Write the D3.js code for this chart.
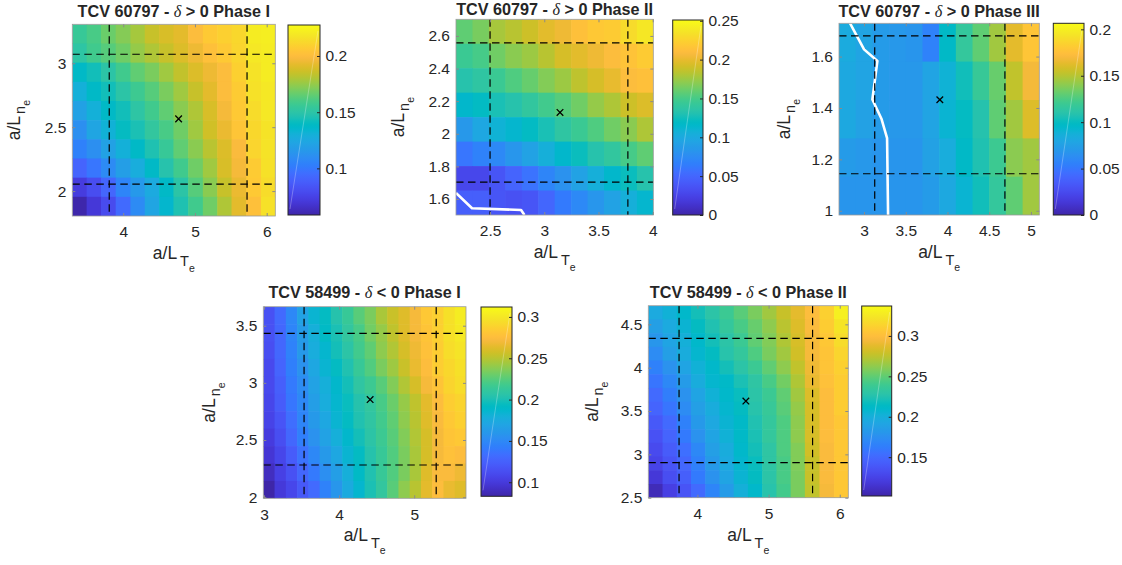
<!DOCTYPE html>
<html><head><meta charset="utf-8">
<script src="https://cdn.jsdelivr.net/npm/d3@7/dist/d3.min.js"></script>
<style>
body{margin:0;background:#fff}
svg{display:block}
text{font-family:"Liberation Sans",Arial,Helvetica,sans-serif;fill:#262626}
</style></head>
<body><svg id="c" width="1122" height="565"></svg>
<script>
// ---------------- DATA ----------------
// Panel 1 : TCV 60797, delta>0, Phase I
const p1Title = ["TCV 60797 - ", " > 0 Phase I"];
const p1X = [3.39,3.59,3.79,4.00,4.20,4.40,4.60,4.80,5.01,5.21,5.41,5.61,5.82,6.02];
const p1Y = [3.23,3.08,2.93,2.78,2.63,2.48,2.33,2.18,2.03,1.88];
const p1Z = [
 [.155,.160,.167,.172,.178,.185,.189,.192,.200,.206,.209,.212,.221,.222],
 [.151,.158,.163,.168,.175,.180,.185,.190,.195,.202,.206,.211,.219,.221],
 [.138,.143,.150,.158,.165,.170,.177,.184,.190,.195,.200,.209,.217,.221],
 [.130,.138,.143,.150,.157,.163,.170,.177,.185,.192,.200,.207,.216,.219],
 [.121,.130,.138,.143,.151,.158,.165,.173,.180,.189,.197,.206,.214,.219],
 [.111,.123,.131,.140,.145,.153,.160,.168,.177,.187,.194,.204,.212,.217],
 [.104,.111,.121,.130,.138,.146,.155,.165,.173,.182,.190,.199,.211,.217],
 [.091,.099,.109,.119,.128,.138,.148,.158,.168,.177,.189,.197,.207,.216],
 [.072,.080,.092,.106,.116,.126,.138,.150,.163,.173,.185,.194,.206,.214],
 [.059,.070,.079,.094,.109,.123,.135,.146,.158,.168,.180,.192,.202,.216]];
const p1CLim = [0.0585, 0.2276];
const p1XTicks = [4,5,6], p1XTickLabels = ["4","5","6"];
const p1YTicks = [2,2.5,3], p1YTickLabels = ["2","2.5","3"];
const p1CTicks = [0.1,0.15,0.2], p1CTickLabels = ["0.1","0.15","0.2"];
const p1VLines = [3.805,5.726], p1HLines = [3.0705,2.055];
const p1Mark = [4.772,2.565];
const p1Contour = [];

// Panel 2 : TCV 60797, delta>0, Phase II
const p2Title = ["TCV 60797 - ", " > 0 Phase II"];
const p2X = [2.262,2.414,2.565,2.717,2.869,3.020,3.172,3.324,3.475,3.627,3.779,3.930];
const p2Y = [2.627,2.477,2.327,2.177,2.027,1.877,1.727,1.577];
const p2Z = [
 [.158,.165,.178,.183,.190,.198,.203,.213,.218,.220,.230,.238],
 [.145,.150,.163,.170,.175,.183,.193,.198,.203,.210,.215,.220],
 [.133,.138,.145,.153,.160,.168,.175,.185,.193,.200,.210,.213],
 [.115,.120,.128,.133,.140,.148,.155,.163,.173,.180,.190,.195],
 [.085,.098,.108,.113,.120,.128,.138,.145,.153,.163,.170,.180],
 [.060,.068,.073,.083,.093,.105,.115,.123,.133,.140,.150,.158],
 [.028,.028,.038,.048,.058,.070,.080,.093,.105,.115,.123,.133],
 [.045,.045,.038,.035,.038,.050,.063,.073,.083,.093,.105,.113]];
const p2CLim = [0, 0.251];
const p2XTicks = [2.5,3,3.5,4], p2XTickLabels = ["2.5","3","3.5","4"];
const p2YTicks = [1.6,1.8,2,2.2,2.4,2.6], p2YTickLabels = ["1.6","1.8","2","2.2","2.4","2.6"];
const p2CTicks = [0,0.05,0.1,0.15,0.2,0.25], p2CTickLabels = ["0","0.05","0.1","0.15","0.2","0.25"];
const p2VLines = [2.50,3.771], p2HLines = [2.557,1.704];
const p2Mark = [3.145,2.131];
const p2Contour = [[2.186,1.637],[2.334,1.543],[2.786,1.533],[2.817,1.502]];

// Panel 3 : TCV 60797, delta>0, Phase III
const p3Title = ["TCV 60797 - ", " > 0 Phase III"];
const p3X = [2.8,3.0,3.2,3.4,3.6,3.8,4.0,4.2,4.4,4.6,4.8,5.0];
const p3Y = [1.655,1.506,1.356,1.207,1.058];
const p3Z = [
 [.083,.078,.072,.070,.068,.056,.097,.116,.130,.145,.163,.178],
 [.081,.078,.072,.070,.070,.078,.089,.103,.118,.132,.153,.169],
 [.081,.076,.072,.070,.070,.078,.091,.099,.109,.130,.145,.161],
 [.072,.070,.068,.068,.068,.076,.085,.097,.107,.120,.140,.145],
 [.068,.068,.068,.068,.068,.072,.081,.091,.103,.116,.130,.145]];
const p3CLim = [0, 0.2065];
const p3XTicks = [3,3.5,4,4.5,5], p3XTickLabels = ["3","3.5","4","4.5","5"];
const p3YTicks = [1,1.2,1.4,1.6], p3YTickLabels = ["1","1.2","1.4","1.6"];
const p3CTicks = [0,0.05,0.1,0.15,0.2], p3CTickLabels = ["0","0.05","0.1","0.15","0.2"];
const p3VLines = [3.128,4.688], p3HLines = [1.6805,1.144];
const p3Mark = [3.908,1.432];
const p3Contour = [[2.83,1.731],[3.00,1.628],[3.16,1.583],[3.10,1.433],[3.21,1.357],[3.276,1.283],[3.288,0.983]];

// Panel 4 : TCV 58499, delta<0, Phase I
const p4Title = ["TCV 58499 - ", " < 0 Phase I"];
const p4X = [3.065,3.215,3.365,3.515,3.665,3.815,3.965,4.115,4.265,4.415,4.565,4.715,4.865,5.015,5.165,5.315,5.465,5.615];
const p4Y = [3.590,3.437,3.285,3.133,2.980,2.828,2.676,2.523,2.371,2.218,2.066];
const p4Z = [
 [.115,.131,.149,.168,.184,.193,.204,.214,.225,.234,.246,.255,.262,.271,.282,.287,.296,.303],
 [.115,.129,.147,.163,.179,.191,.200,.211,.220,.232,.241,.252,.262,.271,.280,.287,.296,.301],
 [.113,.129,.145,.161,.177,.186,.198,.207,.218,.227,.239,.248,.259,.268,.278,.285,.294,.298],
 [.110,.127,.143,.156,.172,.184,.193,.202,.214,.223,.234,.243,.255,.266,.275,.285,.291,.296],
 [.110,.124,.140,.152,.168,.179,.188,.198,.209,.216,.225,.236,.248,.259,.271,.280,.289,.294],
 [.108,.122,.138,.149,.165,.177,.186,.195,.204,.211,.220,.230,.241,.252,.264,.275,.285,.289],
 [.106,.117,.133,.147,.161,.172,.184,.193,.202,.209,.218,.227,.239,.250,.262,.273,.282,.287],
 [.101,.113,.129,.143,.156,.168,.179,.188,.198,.207,.216,.225,.236,.248,.259,.271,.280,.282],
 [.097,.108,.122,.136,.149,.161,.172,.184,.193,.204,.214,.223,.234,.246,.259,.271,.278,.275],
 [.090,.104,.115,.129,.140,.154,.165,.179,.191,.202,.214,.223,.234,.246,.262,.273,.273,.268],
 [.083,.099,.108,.120,.131,.145,.159,.175,.186,.200,.211,.225,.239,.250,.264,.275,.266,.262]];
const p4CLim = [0.083, 0.312];
const p4XTicks = [3,4,5], p4XTickLabels = ["3","4","5"];
const p4YTicks = [2,2.5,3,3.5], p4YTickLabels = ["2","2.5","3","3.5"];
const p4CTicks = [0.1,0.15,0.2,0.25,0.3], p4CTickLabels = ["0.1","0.15","0.2","0.25","0.3"];
const p4VLines = [3.533,5.293], p4HLines = [3.433,2.2815];
const p4Mark = [4.413,2.854];
const p4Contour = [];

// Panel 5 : TCV 58499, delta<0, Phase II
const p5Title = ["TCV 58499 - ", " < 0 Phase II"];
const p5X = [3.41,3.61,3.81,4.01,4.21,4.41,4.61,4.81,5.01,5.21,5.41,5.61,5.82,6.02];
const p5Y = [4.636,4.478,4.320,4.161,4.003,3.845,3.687,3.528,3.370,3.212,3.054,2.896,2.737,2.579];
const p5Z = [
 [.196,.203,.210,.220,.229,.238,.248,.257,.267,.278,.288,.299,.311,.330],
 [.187,.196,.205,.215,.224,.234,.243,.252,.262,.274,.285,.297,.309,.323],
 [.180,.191,.201,.210,.220,.229,.238,.250,.259,.271,.283,.295,.306,.318],
 [.173,.187,.198,.208,.215,.227,.234,.245,.257,.267,.281,.295,.304,.314],
 [.165,.177,.191,.203,.210,.220,.229,.238,.250,.262,.276,.292,.304,.311],
 [.158,.170,.184,.198,.208,.212,.222,.231,.243,.255,.271,.290,.302,.309],
 [.151,.163,.177,.191,.203,.210,.217,.229,.238,.250,.267,.285,.299,.309],
 [.147,.158,.173,.187,.198,.208,.215,.227,.236,.248,.264,.283,.299,.309],
 [.140,.151,.165,.182,.194,.205,.212,.224,.234,.245,.262,.283,.299,.306],
 [.135,.147,.161,.177,.191,.203,.212,.222,.234,.245,.262,.283,.299,.306],
 [.130,.142,.154,.170,.187,.198,.210,.220,.231,.245,.259,.281,.297,.306],
 [.126,.137,.149,.165,.182,.196,.208,.217,.231,.243,.259,.278,.297,.306],
 [.118,.133,.144,.161,.177,.191,.205,.215,.229,.243,.257,.278,.297,.306],
 [.107,.123,.137,.151,.168,.184,.201,.210,.227,.241,.257,.276,.295,.306]];
const p5CLim = [0.102, 0.337];
const p5XTicks = [4,5,6], p5XTickLabels = ["4","5","6"];
const p5YTicks = [2.5,3,3.5,4,4.5], p5YTickLabels = ["2.5","3","3.5","4","4.5"];
const p5CTicks = [0.15,0.2,0.25,0.3], p5CTickLabels = ["0.15","0.2","0.25","0.3"];
const p5VLines = [3.742,5.618], p5HLines = [4.338,2.904];
const p5Mark = [4.681,3.615];
const p5Contour = [];

const xLabel = ["a/L", "T", "e"];
const yLabel = ["a/L", "n", "e"];
const deltaSym = "\u03B4";

// parula colormap (64 entries)
const PARULA = [
[0.2422,0.1504,0.6603],[0.2504,0.1650,0.7076],[0.2578,0.1818,0.7511],[0.2647,0.1978,0.7952],
[0.2706,0.2147,0.8364],[0.2751,0.2342,0.8710],[0.2783,0.2559,0.8991],[0.2803,0.2782,0.9221],
[0.2813,0.3006,0.9414],[0.2810,0.3228,0.9579],[0.2795,0.3447,0.9717],[0.2760,0.3667,0.9829],
[0.2699,0.3892,0.9906],[0.2602,0.4123,0.9952],[0.2440,0.4358,0.9988],[0.2206,0.4603,0.9973],
[0.1963,0.4847,0.9892],[0.1834,0.5074,0.9798],[0.1786,0.5289,0.9682],[0.1764,0.5499,0.9520],
[0.1687,0.5703,0.9359],[0.1540,0.5902,0.9218],[0.1460,0.6091,0.9079],[0.1380,0.6276,0.8973],
[0.1248,0.6459,0.8883],[0.1113,0.6635,0.8763],[0.0952,0.6798,0.8598],[0.0689,0.6948,0.8394],
[0.0297,0.7082,0.8163],[0.0036,0.7203,0.7917],[0.0067,0.7312,0.7660],[0.0433,0.7411,0.7394],
[0.0964,0.7500,0.7120],[0.1408,0.7584,0.6842],[0.1717,0.7670,0.6554],[0.1938,0.7758,0.6251],
[0.2161,0.7843,0.5923],[0.2470,0.7918,0.5567],[0.2906,0.7973,0.5188],[0.3406,0.8008,0.4789],
[0.3909,0.8029,0.4354],[0.4456,0.8024,0.3909],[0.5044,0.7993,0.3480],[0.5616,0.7942,0.3045],
[0.6174,0.7876,0.2612],[0.6720,0.7793,0.2227],[0.7242,0.7698,0.1910],[0.7738,0.7598,0.1646],
[0.8203,0.7498,0.1535],[0.8634,0.7406,0.1596],[0.9035,0.7330,0.1774],[0.9393,0.7288,0.2100],
[0.9728,0.7298,0.2394],[0.9956,0.7434,0.2371],[0.9970,0.7659,0.2199],[0.9952,0.7893,0.2028],
[0.9892,0.8136,0.1885],[0.9786,0.8386,0.1766],[0.9676,0.8639,0.1643],[0.9610,0.8890,0.1537],
[0.9597,0.9135,0.1423],[0.9628,0.9373,0.1265],[0.9691,0.9606,0.1064],[0.9769,0.9839,0.0805]];
function parula(t){
  t = Math.max(0, Math.min(1, t));
  const f = t*63, i = Math.min(62, Math.floor(f)), r = f - i;
  const a = PARULA[i], b = PARULA[i+1];
  const c = a.map((v,k)=>Math.round(255*(v + (b[k]-v)*r)));
  return `rgb(${c[0]},${c[1]},${c[2]})`;
}
// cell edges from centers (midpoints)
function edges(c){
  const n = c.length, e = [c[0] - (c[1]-c[0])/2];
  for (let i=1;i<n;i++) e.push((c[i-1]+c[i])/2);
  e.push(c[n-1] + (c[n-1]-c[n-2])/2);
  return e;
}

// ---------------- LAYOUT ----------------
const panels = [
 {title:p1Title, x:p1X, y:p1Y, z:p1Z, clim:p1CLim, xt:p1XTicks, xtl:p1XTickLabels, yt:p1YTicks, ytl:p1YTickLabels, ct:p1CTicks, ctl:p1CTickLabels, vl:p1VLines, hl:p1HLines, mk:p1Mark, ct2:p1Contour,
  box:{x0:72.3,x1:275.3,y0:24.3,y1:216}, cb:{x0:288,x1:320,y0:25,y1:215}, titleY:17.3, ylOff:52},
 {title:p2Title, x:p2X, y:p2Y, z:p2Z, clim:p2CLim, xt:p2XTicks, xtl:p2XTickLabels, yt:p2YTicks, ytl:p2YTickLabels, ct:p2CTicks, ctl:p2CTickLabels, vl:p2VLines, hl:p2HLines, mk:p2Mark, ct2:p2Contour,
  box:{x0:456,x1:653.3,y0:19.3,y1:215}, cb:{x0:672.7,x1:703,y0:20,y1:215}, titleY:14.8, ylOff:52.5},
 {title:p3Title, x:p3X, y:p3Y, z:p3Z, clim:p3CLim, xt:p3XTicks, xtl:p3XTickLabels, yt:p3YTicks, ytl:p3YTickLabels, ct:p3CTicks, ctl:p3CTickLabels, vl:p3VLines, hl:p3HLines, mk:p3Mark, ct2:p3Contour,
  box:{x0:839,x1:1039.3,y0:23.3,y1:215}, cb:{x0:1053.3,x1:1084,y0:23.3,y1:215}, titleY:16.7, ylOff:49},
 {title:p4Title, x:p4X, y:p4Y, z:p4Z, clim:p4CLim, xt:p4XTicks, xtl:p4XTickLabels, yt:p4YTicks, ytl:p4YTickLabels, ct:p4CTicks, ctl:p4CTickLabels, vl:p4VLines, hl:p4HLines, mk:p4Mark, ct2:p4Contour,
  box:{x0:263.3,x1:466,y0:306.7,y1:498.3}, cb:{x0:481,x1:512,y0:307,y1:496.3}, titleY:298.3, ylOff:48},
 {title:p5Title, x:p5X, y:p5Y, z:p5Z, clim:p5CLim, xt:p5XTicks, xtl:p5XTickLabels, yt:p5YTicks, ytl:p5YTickLabels, ct:p5CTicks, ctl:p5CTickLabels, vl:p5VLines, hl:p5HLines, mk:p5Mark, ct2:p5Contour,
  box:{x0:648.3,x1:848.3,y0:305.7,y1:497.7}, cb:{x0:861.7,x1:891.7,y0:306,y1:496}, titleY:298.3, ylOff:50}
];

const svg = d3.select("#c");
const defs = svg.append("defs");
const grad = defs.append("linearGradient").attr("id","parulaGrad")
  .attr("x1","0").attr("y1","1").attr("x2","0").attr("y2","0");
d3.range(0,64).forEach(i=>grad.append("stop").attr("offset", i/63).attr("stop-color", parula(i/63)));

const TICKFS = 15.5, LABFS = 17.5, TITLEFS = 16.2;
const FONT = '"Liberation Sans",Arial,Helvetica,sans-serif';

panels.forEach((p, pi) => {
  const b = p.box;
  const ex = edges(p.x), ey = edges(p.y); // ey descending
  const xs = d3.scaleLinear().domain([ex[0], ex[ex.length-1]]).range([b.x0,b.x1]);
  const ys = d3.scaleLinear().domain([ey[ey.length-1], ey[0]]).range([b.y1,b.y0]);
  const cn = d3.scaleLinear().domain(p.clim).range([0,1]).clamp(true);
  const g = svg.append("g");
  const clipId = "clip"+pi;
  defs.append("clipPath").attr("id",clipId).append("rect")
    .attr("x",b.x0).attr("y",b.y0).attr("width",b.x1-b.x0).attr("height",b.y1-b.y0);
  const plot = g.append("g").attr("clip-path",`url(#${clipId})`);

  const cells = [];
  p.z.forEach((row,i)=>row.forEach((v,j)=>cells.push({i, j, v})));
  plot.selectAll("rect.cell").data(cells).join("rect").attr("class","cell")
    .attr("x", d=>xs(ex[d.j])).attr("y", d=>ys(ey[d.i]))
    .attr("width", d=>xs(ex[d.j+1])-xs(ex[d.j])+0.6)
    .attr("height", d=>ys(ey[d.i+1])-ys(ey[d.i])+0.6)
    .attr("fill", d=>parula(cn(d.v)));

  // white contour
  if (p.ct2.length){
    plot.append("path").datum(p.ct2)
      .attr("d", d3.line().x(d=>xs(d[0])).y(d=>ys(d[1])))
      .attr("fill","none").attr("stroke","#fff").attr("stroke-width",2.6).attr("stroke-linejoin","round");
  }
  // dashed lines
  plot.selectAll("line.v").data(p.vl).join("line")
    .attr("x1",d=>xs(d)).attr("x2",d=>xs(d)).attr("y1",b.y0).attr("y2",b.y1)
    .attr("stroke","#000").attr("stroke-width",1.2).attr("stroke-dasharray","7.5,4.5");
  plot.selectAll("line.h").data(p.hl).join("line")
    .attr("y1",d=>ys(d)).attr("y2",d=>ys(d)).attr("x1",b.x0).attr("x2",b.x1)
    .attr("stroke","#000").attr("stroke-width",1.2).attr("stroke-dasharray","7.5,4.5");
  // marker x
  const mx = xs(p.mk[0]), my = ys(p.mk[1]), ms = 3.3;
  plot.append("path").attr("d",`M${mx-ms},${my-ms}L${mx+ms},${my+ms}M${mx-ms},${my+ms}L${mx+ms},${my-ms}`)
    .attr("stroke","#000").attr("stroke-width",1.3);

  // axes frame & ticks
  g.append("rect").attr("x",b.x0).attr("y",b.y0).attr("width",b.x1-b.x0).attr("height",b.y1-b.y0)
    .attr("fill","none").attr("stroke","#9a9a9a").attr("stroke-width",0.8);
  const axB = d3.axisBottom(xs).tickValues(p.xt).tickFormat((d,i)=>p.xtl[i]).tickSize(-3).tickPadding(10.3);
  const axL = d3.axisLeft(ys).tickValues(p.yt).tickFormat((d,i)=>p.ytl[i]).tickSize(-3).tickPadding(6);
  const axT = d3.axisTop(xs).tickValues(p.xt).tickFormat("").tickSize(-3);
  const axR = d3.axisRight(ys).tickValues(p.yt).tickFormat("").tickSize(-3);
  [[axB,`translate(0,${b.y1})`],[axL,`translate(${b.x0},0)`],[axT,`translate(0,${b.y0})`],[axR,`translate(${b.x1},0)`]]
   .forEach(([ax,tr])=>{
     const a = g.append("g").attr("transform",tr).call(ax);
     a.select(".domain").remove();
     a.selectAll("line").attr("stroke","#8a8a8a");
     a.selectAll("text").attr("font-size",TICKFS).attr("fill","#262626").style("font-family",FONT);
   });

  // x label
  const xl = g.append("text").attr("x",(b.x0+b.x1)/2).attr("y",b.y1+43).attr("text-anchor","middle").attr("font-size",LABFS);
  xl.append("tspan").text(xLabel[0]);
  xl.append("tspan").attr("dx",3).attr("dy",7).attr("font-size",14.5).text(xLabel[1]);
  xl.append("tspan").attr("dy",6).attr("font-size",10.5).text(xLabel[2]);
  // y label
  const yl = g.append("text").attr("transform",`translate(${b.x0-p.ylOff},${(b.y0+b.y1)/2}) rotate(-90)`)
    .attr("text-anchor","middle").attr("font-size",LABFS);
  yl.append("tspan").text(yLabel[0]);
  yl.append("tspan").attr("dx",2).attr("dy",5).attr("font-size",14.5).text(yLabel[1]);
  yl.append("tspan").attr("dy",5).attr("font-size",10.5).text(yLabel[2]);

  // title
  const tt = g.append("text").attr("x",(b.x0+b.x1)/2).attr("y",p.titleY).attr("text-anchor","middle")
    .attr("font-size",TITLEFS).attr("font-weight","bold").attr("fill","#000");
  tt.append("tspan").text(p.title[0]);
  tt.append("tspan").attr("font-style","italic").attr("font-weight","normal").style("font-family",'"Liberation Serif","DejaVu Serif",serif').text(deltaSym);
  tt.append("tspan").text(p.title[1]);

  // colorbar
  const c = p.cb;
  const cs = d3.scaleLinear().domain(p.clim).range([c.y1,c.y0]);
  g.append("rect").attr("x",c.x0).attr("y",c.y0).attr("width",c.x1-c.x0).attr("height",c.y1-c.y0)
    .attr("fill","url(#parulaGrad)");
  g.append("line").attr("x1",c.x0+2).attr("y1",c.y1-6).attr("x2",c.x1-2).attr("y2",c.y0+6)
    .attr("stroke","#fff").attr("stroke-opacity",0.35).attr("stroke-width",0.8);
  g.append("rect").attr("x",c.x0).attr("y",c.y0).attr("width",c.x1-c.x0).attr("height",c.y1-c.y0)
    .attr("fill","none").attr("stroke","#262626").attr("stroke-width",1);
  const axC = d3.axisRight(cs).tickValues(p.ct).tickFormat((d,i)=>p.ctl[i]).tickSize(-3).tickPadding(5.5);
  const ca = g.append("g").attr("transform",`translate(${c.x1},0)`).call(axC);
  ca.select(".domain").remove();
  ca.selectAll("line").attr("stroke","#262626");
  ca.selectAll("text").attr("font-size",TICKFS).attr("fill","#262626").style("font-family",FONT);
});
</script>
</body></html>
